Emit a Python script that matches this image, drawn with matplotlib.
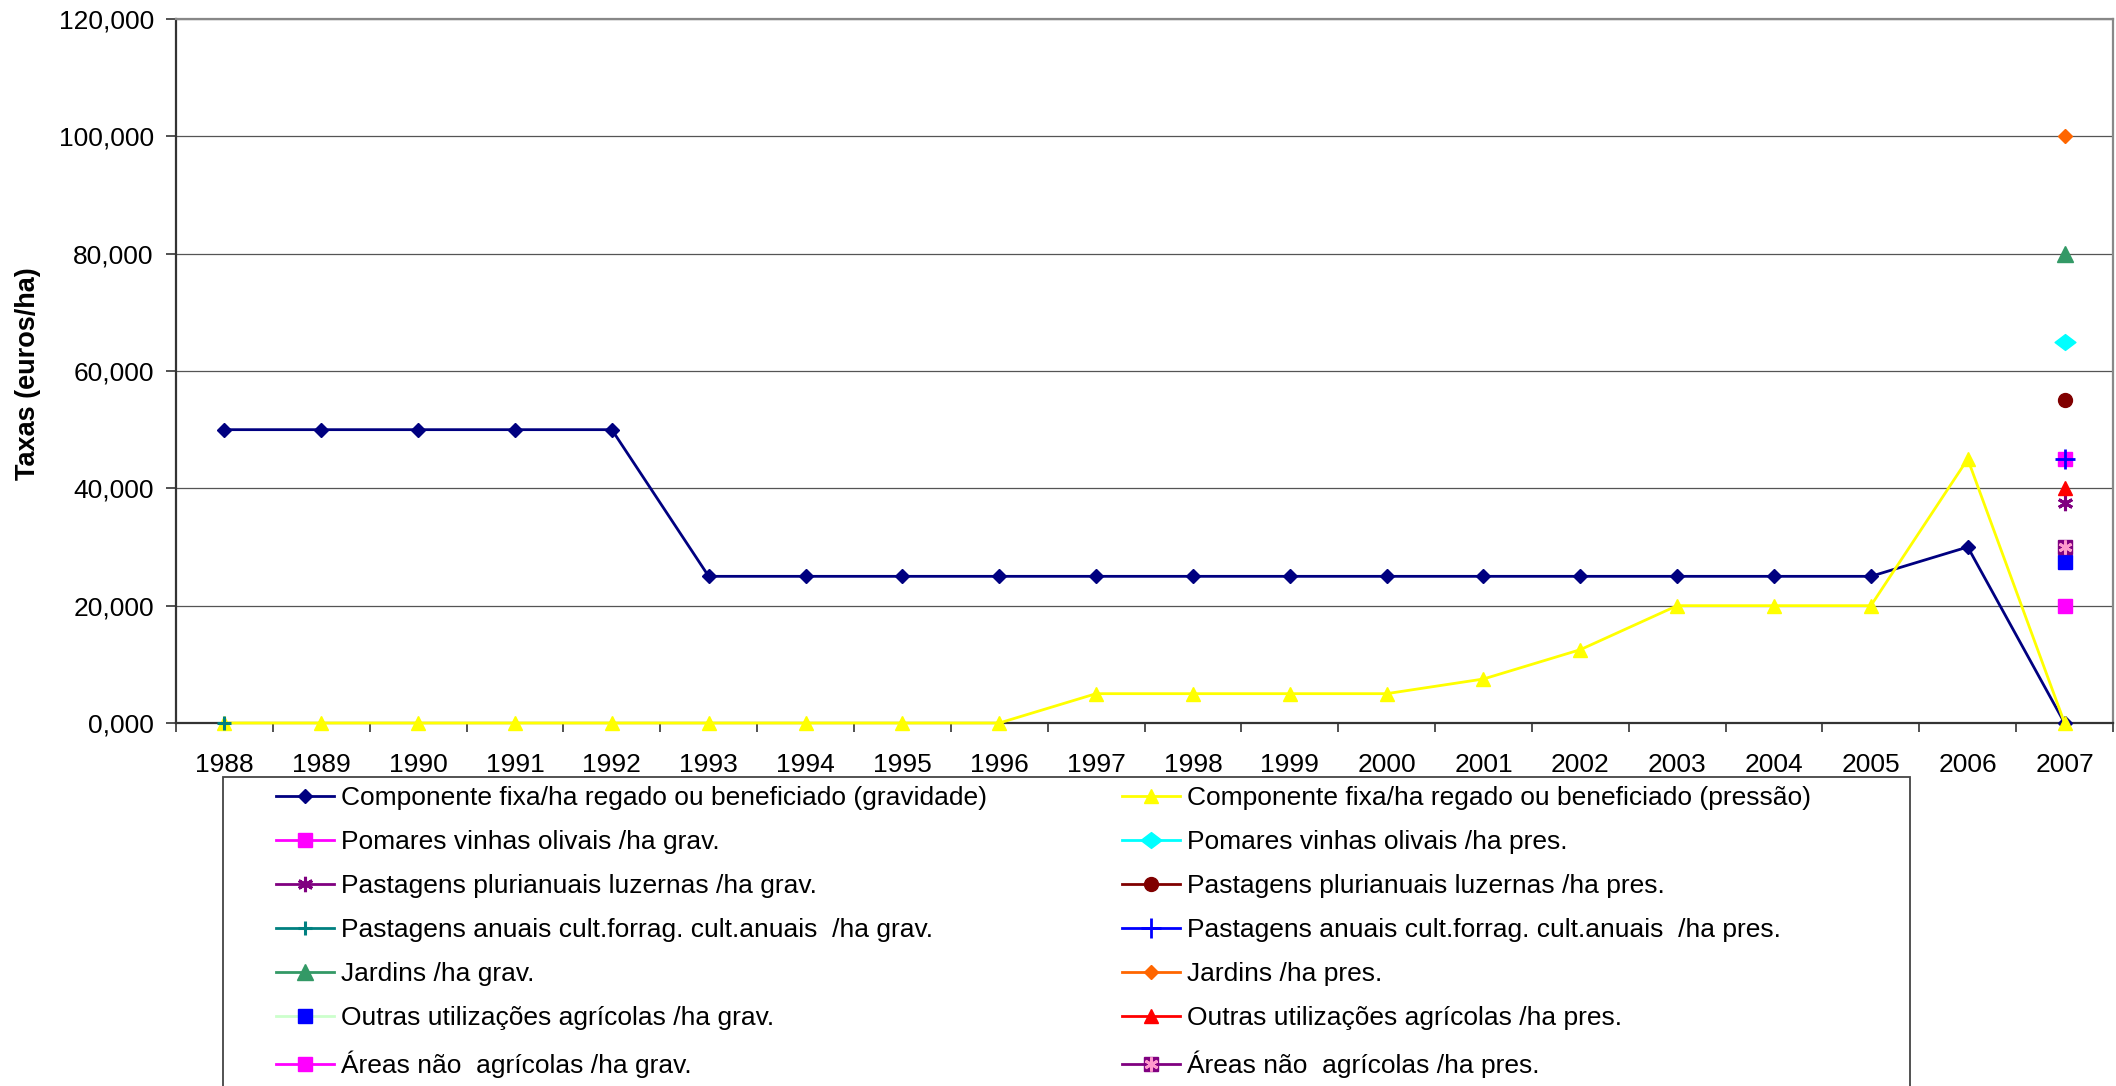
import numpy as np
import matplotlib
matplotlib.use("Agg")
import matplotlib.pyplot as plt
from matplotlib.path import Path
from matplotlib.patches import Rectangle
from matplotlib.ticker import FuncFormatter, FixedLocator
from matplotlib.legend_handler import HandlerTuple

plt.rcParams['font.family'] = ['Liberation Sans', 'DejaVu Sans']

# ---------------- data ----------------
years = [1988, 1989, 1990, 1991, 1992, 1993, 1994, 1995, 1996, 1997,
         1998, 1999, 2000, 2001, 2002, 2003, 2004, 2005, 2006, 2007]
comp_grav = [50, 50, 50, 50, 50, 25, 25, 25, 25, 25,
             25, 25, 25, 25, 25, 25, 25, 25, 30, 0]
comp_pres = [0, 0, 0, 0, 0, 0, 0, 0, 0, 5,
             5, 5, 5, 7.5, 12.5, 20, 20, 20, 45, 0]
# single-point series: (year, value)
pomares_grav = (2007, 45)
pomares_pres = (2007, 65)
past_pluri_grav = (2007, 37.5)
past_pluri_pres = (2007, 55)
past_anuais_grav = (1988, 0)
past_anuais_pres = (2007, 45)
jardins_grav = (2007, 80)
jardins_pres = (2007, 100)
outras_grav = (2007, 27.5)
outras_pres = (2007, 40)
areas_grav = (2007, 20)
areas_pres = (2007, 30)

labels = [
    "Componente fixa/ha regado ou beneficiado (gravidade)",
    "Componente fixa/ha regado ou beneficiado (pressão)",
    "Pomares vinhas olivais /ha grav.",
    "Pomares vinhas olivais /ha pres.",
    "Pastagens plurianuais luzernas /ha grav.",
    "Pastagens plurianuais luzernas /ha pres.",
    "Pastagens anuais cult.forrag. cult.anuais  /ha grav.",
    "Pastagens anuais cult.forrag. cult.anuais  /ha pres.",
    "Jardins /ha grav.",
    "Jardins /ha pres.",
    "Outras utilizações agrícolas /ha grav.",
    "Outras utilizações agrícolas /ha pres.",
    "Áreas não  agrícolas /ha grav.",
    "Áreas não  agrícolas /ha pres.",
]
y_ticks = [0, 20, 40, 60, 80, 100, 120]

# ---------------- figure ----------------
W, H = 2116, 1086
fig = plt.figure(figsize=(W / 100, H / 100), dpi=100)
ax = fig.add_axes([176 / W, 1 - 723 / H, (2113 - 176) / W, (723 - 19) / H])

xi = np.arange(len(years))

def single(pt):
    y = np.full(len(years), np.nan)
    y[years.index(pt[0])] = pt[1]
    return y

wide_diamond = Path([(-1, 0), (0, 0.76), (1, 0), (0, -0.76), (-1, 0)],
                    [Path.MOVETO, Path.LINETO, Path.LINETO, Path.LINETO, Path.CLOSEPOLY])
asterisk = (6, 2, 0)

common = dict(clip_on=False, zorder=5)
h = []
h.append(ax.plot(xi, comp_grav, color='#000080', lw=2, marker='D', ms=7.2,
                 mfc='#000080', mec='#000080', **common)[0])
h.append(ax.plot(xi, comp_pres, color='#FFFF00', lw=2, marker='^', ms=10.5,
                 mfc='#FFFF00', mec='#FFFF00', **common)[0])
h.append(ax.plot(xi, single(pomares_grav), color='#FF00FF', lw=2, marker='s', ms=10,
                 mfc='#FF00FF', mec='#FF00FF', **common)[0])
h.append(ax.plot(xi, single(pomares_pres), color='#00FFFF', lw=2, marker=wide_diamond, ms=15,
                 mfc='#00FFFF', mec='#00FFFF', **common)[0])
h.append(ax.plot(xi, single(past_pluri_grav), color='#800080', lw=2, marker=asterisk, ms=11,
                 mec='#800080', mew=2.2, **common)[0])
h.append(ax.plot(xi, single(past_pluri_pres), color='#800000', lw=2, marker='o', ms=10,
                 mfc='#800000', mec='#800000', **common)[0])
h.append(ax.plot(xi, single(past_anuais_grav), color='#008080', lw=2, marker='+', ms=9.5,
                 mec='#008080', mew=2.2, **common)[0])
h.append(ax.plot(xi, single(past_anuais_pres), color='#0000FF', lw=2, marker='+', ms=14,
                 mec='#0000FF', mew=2, **common)[0])
h.append(ax.plot(xi, single(jardins_grav), color='#339966', lw=2, marker='^', ms=11,
                 mfc='#339966', mec='#339966', **common)[0])
h.append(ax.plot(xi, single(jardins_pres), color='#FF6600', lw=2, marker='D', ms=7.2,
                 mfc='#FF6600', mec='#FF6600', **common)[0])
h.append(ax.plot(xi, single(outras_grav), color='#CCFFCC', lw=2, marker='s', ms=10,
                 mfc='#0000FF', mec='#0000FF', **common)[0])
h.append(ax.plot(xi, single(outras_pres), color='#FF0000', lw=2, marker='^', ms=10.5,
                 mfc='#FF0000', mec='#FF0000', **common)[0])
h.append(ax.plot(xi, single(areas_grav), color='#FF00FF', lw=2, marker='s', ms=10,
                 mfc='#FF00FF', mec='#FF00FF', **common)[0])
a1 = ax.plot(xi, single(areas_pres), color='#800080', lw=2, marker='s', ms=10,
             mfc='#800080', mec='#800080', **common)[0]
a2 = ax.plot(xi, single(areas_pres), color='#800080', lw=0, marker=asterisk, ms=10,
             mec='#FF99CC', mew=2, clip_on=False, zorder=6)[0]
h.append((a1, a2))

# ---------------- axes styling ----------------
ax.set_xlim(-0.5, len(years) - 0.5)
ax.set_ylim(0, 120)
ax.set_yticks(y_ticks)
ax.yaxis.set_major_formatter(FuncFormatter(lambda v, p: f"{v:.3f}".replace('.', ',')))
ax.set_xticks(xi)
ax.set_xticklabels([str(y) for y in years])
ax.xaxis.set_minor_locator(FixedLocator(np.arange(-0.5, len(years), 1.0)))
ax.tick_params(axis='x', which='major', length=0, pad=21.5, labelsize=19)
ax.tick_params(axis='x', which='minor', length=6.5, width=1.2, color='#333333', direction='out')
ax.tick_params(axis='y', which='major', length=7, width=1.2, color='#333333', pad=9, labelsize=19)
ax.grid(axis='y', color='#555555', lw=0.9, zorder=0)
ax.set_axisbelow(True)
for s in ['left', 'bottom']:
    ax.spines[s].set_color('#333333')
    ax.spines[s].set_linewidth(1.6)
for s in ['top', 'right']:
    ax.spines[s].set_color('#888888')
    ax.spines[s].set_linewidth(1.6)

fig.text(28 / W, 1 - 374 / H, 'Taxas (euros/ha)', rotation=90, ha='center', va='center',
         fontsize=19.5, fontweight='bold')

# ---------------- legend ----------------
fig.patches.append(Rectangle((223 / W, -0.05), (1910 - 223) / W, 0.05 + 1 - 777 / H,
                             transform=fig.transFigure, fill=False, edgecolor='#444444',
                             lw=1.3, zorder=1))
leg_kw = dict(loc='upper left', bbox_transform=fig.transFigure, frameon=False,
              borderaxespad=0, borderpad=0, fontsize=19, handlelength=2.2,
              handletextpad=0.25, labelspacing=0.76,
              handler_map={tuple: HandlerTuple(ndivide=1, pad=0)})
left_h = h[0::2]
right_h = h[1::2]
leg1 = fig.legend(left_h, labels[0::2], bbox_to_anchor=(276 / W, 1 - 786 / H), **leg_kw)
leg2 = fig.legend(right_h, labels[1::2], bbox_to_anchor=(1122 / W, 1 - 786 / H), **leg_kw)

fig.savefig('out.png', dpi=100)
